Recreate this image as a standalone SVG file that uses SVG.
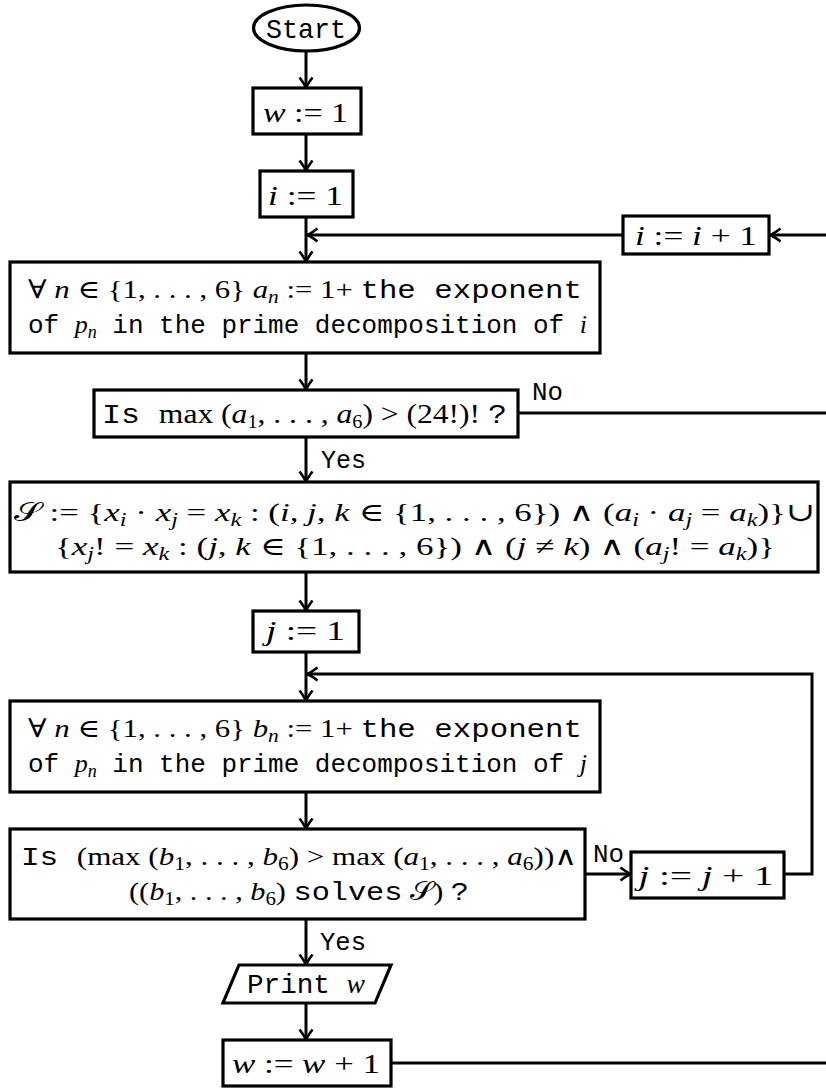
<svg xmlns="http://www.w3.org/2000/svg" width="826" height="1088" viewBox="0 0 826 1088">
<defs>
<style>
.box{fill:#fff;stroke:#000;stroke-width:3.2}
.edge{fill:none;stroke:#000;stroke-width:3}
.m{font-family:"Liberation Serif","DejaVu Serif",serif;font-size:28px;fill:#000}
.m2{font-size:26px}
.tt{font-family:"Liberation Mono","DejaVu Sans Mono",monospace}
.lbl{font-family:"Liberation Mono","DejaVu Sans Mono",monospace;font-size:25px;fill:#000}
.i{font-style:italic}
.sub{font-size:18px;baseline-shift:-5px}
</style>
<marker id="arr" viewBox="0 0 14 16" markerWidth="14" markerHeight="16" refX="12" refY="8" orient="auto" markerUnits="userSpaceOnUse">
<path d="M1.5,1.5 Q8,6.5 12,8 Q8,9.5 1.5,14.5" fill="none" stroke="#000" stroke-width="2.6"/>
</marker>
</defs>
<rect width="826" height="1088" fill="#fff"/>

<g id="connectors">
<path class="edge" d="M306,51 V88" marker-end="url(#arr)"/>
<path class="edge" d="M306,134 V171" marker-end="url(#arr)"/>
<path class="edge" d="M306,217 V262" marker-end="url(#arr)"/>
<path class="edge" d="M623,235 H307" marker-end="url(#arr)"/>
<path class="edge" d="M826,235 H770" marker-end="url(#arr)"/>
<path class="edge" d="M306,353 V390" marker-end="url(#arr)"/>
<path class="edge" d="M306,437 V482" marker-end="url(#arr)"/>
<path class="edge" d="M518,413 H826"/>
<path class="edge" d="M306,572 V611" marker-end="url(#arr)"/>
<path class="edge" d="M306,652 V701" marker-end="url(#arr)"/>
<path class="edge" d="M784,874 H812 V674 H307" marker-end="url(#arr)"/>
<path class="edge" d="M306,792 V829" marker-end="url(#arr)"/>
<path class="edge" d="M585,874 H631" marker-end="url(#arr)"/>
<path class="edge" d="M306,919 V965" marker-end="url(#arr)"/>
<path class="edge" d="M306,1003 V1040" marker-end="url(#arr)"/>
<path class="edge" d="M391,1063 H826"/>
<text class="lbl" x="532" y="400" textLength="31" lengthAdjust="spacingAndGlyphs">No</text>
<text class="lbl" x="321" y="468" textLength="45" lengthAdjust="spacingAndGlyphs">Yes</text>
<text class="lbl" x="593" y="862" textLength="31" lengthAdjust="spacingAndGlyphs">No</text>
<text class="lbl" x="320" y="950" textLength="46" lengthAdjust="spacingAndGlyphs">Yes</text>
</g>

<g id="start">
<ellipse class="box" cx="306.5" cy="28" rx="53" ry="23"/>
<text class="m tt" x="306" y="38" text-anchor="middle" textLength="80" lengthAdjust="spacingAndGlyphs">Start</text>
</g>

<g id="w_init">
<rect class="box" x="253" y="88" width="108" height="46"/>
<text class="m" x="305.5" y="122" text-anchor="middle" textLength="85" lengthAdjust="spacingAndGlyphs"><tspan class="i">w</tspan> := 1</text>
</g>

<g id="i_init">
<rect class="box" x="260" y="171" width="93" height="46"/>
<text class="m" x="305.5" y="205" text-anchor="middle" textLength="75" lengthAdjust="spacingAndGlyphs"><tspan class="i">i</tspan> := 1</text>
</g>

<g id="i_inc">
<rect class="box" x="623" y="216" width="146" height="38"/>
<text class="m" x="696" y="245" text-anchor="middle" textLength="122" lengthAdjust="spacingAndGlyphs"><tspan class="i">i</tspan> := <tspan class="i">i</tspan> + 1</text>
</g>

<g id="a_def">
<rect class="box" x="10" y="262" width="590" height="91"/>
<text class="m m2" x="305" y="298" text-anchor="middle" textLength="554" lengthAdjust="spacingAndGlyphs">∀ <tspan class="i">n</tspan> ∈ {1, . . . , 6} <tspan class="i">a</tspan><tspan class="sub i">n</tspan> := 1+ <tspan class="tt">the exponent</tspan></text>
<text class="m m2" x="307.5" y="333" text-anchor="middle" textLength="559" lengthAdjust="spacingAndGlyphs"><tspan class="tt">of </tspan><tspan class="i">p</tspan><tspan class="sub i">n</tspan><tspan class="tt"> in the prime decomposition of </tspan><tspan class="i">i</tspan></text>
</g>

<g id="check_max">
<rect class="box" x="94" y="390" width="424" height="47"/>
<text class="m" x="304.5" y="423" text-anchor="middle" textLength="405" lengthAdjust="spacingAndGlyphs"><tspan class="tt">Is </tspan> max (<tspan class="i">a</tspan><tspan class="sub">1</tspan>, . . . , <tspan class="i">a</tspan><tspan class="sub">6</tspan>) &gt; (24!)! <tspan class="tt">?</tspan></text>
</g>

<g id="system_S">
<rect class="box" x="10" y="482" width="808" height="90"/>
<text class="m m2" x="414.5" y="521" text-anchor="middle" textLength="801" lengthAdjust="spacingAndGlyphs">𝒮 := {<tspan class="i">x</tspan><tspan class="sub i">i</tspan> · <tspan class="i">x</tspan><tspan class="sub i">j</tspan> = <tspan class="i">x</tspan><tspan class="sub i">k</tspan> : (<tspan class="i">i, j, k</tspan> ∈ {1, . . . , 6}) ∧ (<tspan class="i">a</tspan><tspan class="sub i">i</tspan> · <tspan class="i">a</tspan><tspan class="sub i">j</tspan> = <tspan class="i">a</tspan><tspan class="sub i">k</tspan>)}∪</text>
<text class="m m2" x="415" y="555" text-anchor="middle" textLength="720" lengthAdjust="spacingAndGlyphs">{<tspan class="i">x</tspan><tspan class="sub i">j</tspan>! = <tspan class="i">x</tspan><tspan class="sub i">k</tspan> : (<tspan class="i">j, k</tspan> ∈ {1, . . . , 6}) ∧ (<tspan class="i">j</tspan> ≠ <tspan class="i">k</tspan>) ∧ (<tspan class="i">a</tspan><tspan class="sub i">j</tspan>! = <tspan class="i">a</tspan><tspan class="sub i">k</tspan>)}</text>
</g>

<g id="j_init">
<rect class="box" x="253" y="611" width="106" height="41"/>
<text class="m" x="305.5" y="640" text-anchor="middle" textLength="79" lengthAdjust="spacingAndGlyphs"><tspan class="i">j</tspan> := 1</text>
</g>

<g id="b_def">
<rect class="box" x="10" y="701" width="590" height="91"/>
<text class="m m2" x="305" y="737" text-anchor="middle" textLength="554" lengthAdjust="spacingAndGlyphs">∀ <tspan class="i">n</tspan> ∈ {1, . . . , 6} <tspan class="i">b</tspan><tspan class="sub i">n</tspan> := 1+ <tspan class="tt">the exponent</tspan></text>
<text class="m m2" x="307.5" y="772" text-anchor="middle" textLength="559" lengthAdjust="spacingAndGlyphs"><tspan class="tt">of </tspan><tspan class="i">p</tspan><tspan class="sub i">n</tspan><tspan class="tt"> in the prime decomposition of </tspan><tspan class="i">j</tspan></text>
</g>

<g id="check_solution">
<rect class="box" x="10" y="829" width="575" height="90"/>
<text class="m m2" x="299" y="865" text-anchor="middle" textLength="556" lengthAdjust="spacingAndGlyphs"><tspan class="tt">Is </tspan>(max (<tspan class="i">b</tspan><tspan class="sub">1</tspan>, . . . , <tspan class="i">b</tspan><tspan class="sub">6</tspan>) &gt; max (<tspan class="i">a</tspan><tspan class="sub">1</tspan>, . . . , <tspan class="i">a</tspan><tspan class="sub">6</tspan>))∧</text>
<text class="m m2" x="299" y="900" text-anchor="middle" textLength="340" lengthAdjust="spacingAndGlyphs">((<tspan class="i">b</tspan><tspan class="sub">1</tspan>, . . . , <tspan class="i">b</tspan><tspan class="sub">6</tspan>) <tspan class="tt">solves</tspan> 𝒮) <tspan class="tt">?</tspan></text>
</g>

<g id="j_inc">
<rect class="box" x="631" y="852" width="153" height="46"/>
<text class="m" x="706" y="885" text-anchor="middle" textLength="135" lengthAdjust="spacingAndGlyphs"><tspan class="i">j</tspan> := <tspan class="i">j</tspan> + 1</text>
</g>

<g id="print_w">
<polygon class="box" points="239,965 391,965 375,1003 223,1003"/>
<text class="m" x="306" y="993" text-anchor="middle" textLength="118" lengthAdjust="spacingAndGlyphs"><tspan class="tt">Print </tspan><tspan class="i">w</tspan></text>
</g>

<g id="w_inc">
<rect class="box" x="223" y="1040" width="168" height="46"/>
<text class="m" x="306" y="1073" text-anchor="middle" textLength="148" lengthAdjust="spacingAndGlyphs"><tspan class="i">w</tspan> := <tspan class="i">w</tspan> + 1</text>
</g>
</svg>
